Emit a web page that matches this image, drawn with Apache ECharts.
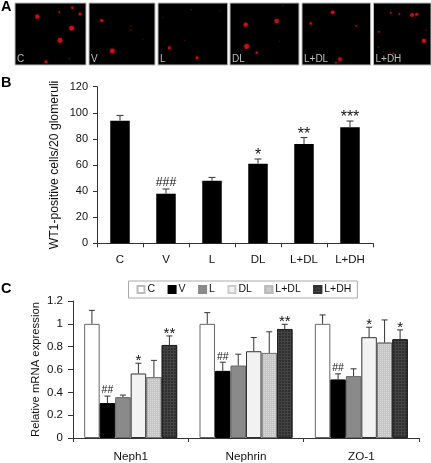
<!DOCTYPE html>
<html><head><meta charset="utf-8">
<style>html,body{margin:0;padding:0;background:#fff}#c{width:431px;height:463px}</style>
<script src="https://cdn.jsdelivr.net/npm/echarts@6/dist/echarts.min.js"></script>
</head><body><div id="c"></div>
<script>
// Panel A: spots [x, y, size] in each micrograph's own field units
const panelLabels = ['C','V','L','DL','L+DL','L+DH'];
const panelWidths = [213,198,209,207,206,173];
const spotsC = [[67,41,7],[133,28,3],[172,14,4],[195,33,5],[170,76,8],[135,113,8],[93,177,5],[163,168,2]];
const spotsV = [[38,53,5],[70,145,8],[126,70,2],[125,82,2],[161,109,1.5]];
const spotsL = [[100,20,2],[34,135,5],[117,165,5],[80,112,1.5],[185,23,1.5],[14,44,1.5]];
const spotsDL = [[47,65,7],[140,54,7],[50,131,8],[80,150,4],[158,7,1],[148,115,1.5]];
const spotsLDL = [[92,28,6],[26,62,4],[163,69,3],[114,169,6],[102,180,3]];
const spotsLDH = [[52,30,3],[78,33,3],[116,36,6],[130,34,5],[16,87,3],[152,114,7],[158,82,2],[15,134,2],[30,147,1.5],[60,152,3],[50,149,1.5]];
// Panel B
const catsB = ['C','V','L','DL','L+DL','L+DH'];
const valsB = [94,38,48,61,76,89];
const topsB = [98,41.6,50.5,64.6,81,93.7];
const sigB = ['','###','','*','**','***'];
// Panel C
const catsC = ['Neph1','Nephrin','ZO-1'];
const seriesC = ['C','V','L','DL','L+DL','L+DH'];
const valsCC = [1,1,1],   topsCC = [1.118,1.098,1.078], sigCC = ['','',''];
const valsCV = [0.306,0.588,0.513], topsCV = [0.367,0.664,0.562], sigCV = ['##','##','##'];
const valsCL = [0.358,0.635,0.542], topsCL = [0.376,0.734,0.606], sigCL = ['','',''];
const valsCDL = [0.565,0.76,0.883], topsCDL = [0.655,0.88,0.97], sigCDL = ['*','','*'];
const valsCLDL = [0.533,0.745,0.836], topsCLDL = [0.68,0.93,1.034], sigCLDL = ['','',''];
const valsCLDH = [0.815,0.955,0.865], topsCLDH = [0.894,0.996,0.947], sigCLDH = ['**','**','*'];

const FONT = '"Liberation Sans", Arial, sans-serif';
const LINE = '#333';
const spots = [spotsC,spotsV,spotsL,spotsDL,spotsLDL,spotsLDH];
const panelLefts = [15,89,158,230,302,373.5];

const grid = [], xAxis = [], yAxis = [], series = [];
panelLabels.forEach((lab,i)=>{
  grid.push({left:panelLefts[i],top:3,width:panelWidths[i]/3,height:62,show:true,backgroundColor:'#000',borderColor:'#bbb',borderWidth:1});
  xAxis.push({type:'value',gridIndex:i,min:0,max:panelWidths[i],show:false});
  yAxis.push({type:'value',gridIndex:i,min:0,max:187,inverse:true,show:false});
  series.push({type:'scatter',xAxisIndex:i,yAxisIndex:i,data:spots[i],silent:true,
    symbolSize:d=>Math.max(1,d[2]*0.62),
    itemStyle:{color:p=>p.data[2]<=2?'#8a0c12':'#e0141c',shadowColor:'#b00010',shadowBlur:2.5}});
});
function errSeries(xi,data,off,w,hashSize,starSize){
  return {type:'custom',xAxisIndex:xi,yAxisIndex:xi,silent:true,z:5,clip:false,data:data,
    renderItem(p,api){
      const idx=api.value(0), v=api.coord([idx,api.value(1)]), t=api.coord([idx,api.value(2)]);
      const x=v[0]+off, s=data[p.dataIndex][3];
      const kids=[
        {type:'line',shape:{x1:x,y1:v[1],x2:x,y2:t[1]},style:{stroke:'#333',lineWidth:1}},
        {type:'line',shape:{x1:x-w,y1:t[1],x2:x+w,y2:t[1]},style:{stroke:'#333',lineWidth:1}}
      ];
      if(s){
        const star=s[0]==='*';
        kids.push({type:'text',style:{x:x,y:t[1]+(star?5:0),text:s,fill:'#111',align:'center',verticalAlign:'bottom',font:(star?starSize:hashSize)+'px '+FONT}});
      }
      return {type:'group',children:kids};
    }};
}
// Panel B (grid 6)
grid.push({left:97,top:86.7,width:276,height:156.6});
xAxis.push({type:'category',gridIndex:6,data:catsB,axisLine:{lineStyle:{color:LINE}},axisTick:{show:true,alignWithLabel:false,length:4,lineStyle:{color:LINE}},axisLabel:{color:'#111',fontSize:11.5,fontFamily:FONT,margin:11,interval:0}});
yAxis.push({type:'value',gridIndex:6,min:0,max:120,interval:20,splitLine:{show:false},axisLine:{show:true,lineStyle:{color:LINE}},axisTick:{show:true,length:4,lineStyle:{color:LINE}},axisLabel:{color:'#111',fontSize:11,fontFamily:FONT,margin:9},
  name:'WT1-positive cells/20 glomeruli',nameLocation:'middle',nameGap:36,nameMoveOverlap:false,nameTextStyle:{color:'#111',fontSize:12.2,fontFamily:FONT}});
series.push({type:'bar',name:'WT1',xAxisIndex:6,yAxisIndex:6,data:valsB,barWidth:19.5,itemStyle:{color:'#000'}});
series.push(errSeries(6,valsB.map((v,i)=>[i,v,topsB[i],sigB[i]]),0,3.5,12.4,16));
// Panel C (grid 7)
const valsC=[valsCC,valsCV,valsCL,valsCDL,valsCLDL,valsCLDH];
const topsC=[topsCC,topsCV,topsCL,topsCDL,topsCLDL,topsCLDH];
const sigC=[sigCC,sigCV,sigCL,sigCDL,sigCLDL,sigCLDH];
const fillC=['#fff','#000','#8a8a8a','#f2f2f2','#c6c6c6','#444'];
const edgeC=['#666','#000','#666','#333','#777','#222'];
const legendEdge=['#bbb','#000','#888','#ccc','#bbb','#333'];
const decalC=[null,null,null,null,
  {symbol:'rect',symbolSize:1,color:'rgba(255,255,255,0.35)',dashArrayX:[1,1],dashArrayY:[1,1]},
  {symbol:'rect',symbolSize:1,color:'rgba(0,0,0,0.3)',dashArrayX:[2,1],dashArrayY:[2,1]}];
const BW=15.5;
grid.push({left:73,top:301,width:346,height:137.3});
xAxis.push({type:'category',gridIndex:7,data:catsC,axisLine:{lineStyle:{color:LINE}},axisTick:{show:true,alignWithLabel:false,length:4,lineStyle:{color:LINE}},axisLabel:{color:'#111',fontSize:11.7,fontFamily:FONT,margin:13,interval:0}});
yAxis.push({type:'value',gridIndex:7,min:0,max:1.2,interval:0.2,splitLine:{show:false},axisLine:{show:true,lineStyle:{color:LINE}},axisTick:{show:true,length:5,lineStyle:{color:LINE}},axisLabel:{color:'#111',fontSize:11.5,fontFamily:FONT,margin:10,formatter:v=>String(+v.toFixed(1))},
  name:'Relative mRNA expression',nameLocation:'middle',nameGap:32,nameMoveOverlap:false,nameTextStyle:{color:'#111',fontSize:11.3,fontFamily:FONT}});
seriesC.forEach((n,i)=>{
  const st={color:fillC[i],borderColor:edgeC[i],borderWidth:1};
  if(decalC[i]) st.decal=decalC[i];
  series.push({type:'bar',name:n,xAxisIndex:7,yAxisIndex:7,data:valsC[i],barWidth:BW,barGap:0,itemStyle:st});
});
seriesC.forEach((n,i)=>{
  series.push(errSeries(7,valsC[i].map((v,k)=>[k,v,topsC[i][k],sigC[i][k]]),(i-2.5)*BW,3,10.5,15));
});
const option={animation:false,backgroundColor:'#fff',grid,xAxis,yAxis,series,
  legend:{show:true,data:seriesC.map((n,i)=>({name:n,itemStyle:{borderColor:legendEdge[i]}})),left:128.5,top:281,orient:'horizontal',icon:'rect',itemWidth:7,itemHeight:7,itemGap:12.5,
    padding:[3,6,3,8],borderColor:'#aaa',borderWidth:1,textStyle:{color:'#111',fontSize:10.5,fontFamily:FONT,padding:[0,0,0,-2]}},
  graphic:[
    {type:'text',left:1,top:-1,style:{text:'A',font:'bold 14.5px '+FONT,fill:'#000'}},
    {type:'text',left:1,top:75.5,style:{text:'B',font:'bold 14.5px '+FONT,fill:'#000'}},
    {type:'text',left:1,top:281,style:{text:'C',font:'bold 14.5px '+FONT,fill:'#000'}},
    ...panelLabels.map((t,i)=>({type:'text',left:panelLefts[i]+2,top:54,z:10,style:{text:t,font:'10px '+FONT,fill:'#bdbdbd'}}))
  ]};
echarts.init(document.getElementById('c'),null,{renderer:'canvas'}).setOption(option);
</script></body></html>
